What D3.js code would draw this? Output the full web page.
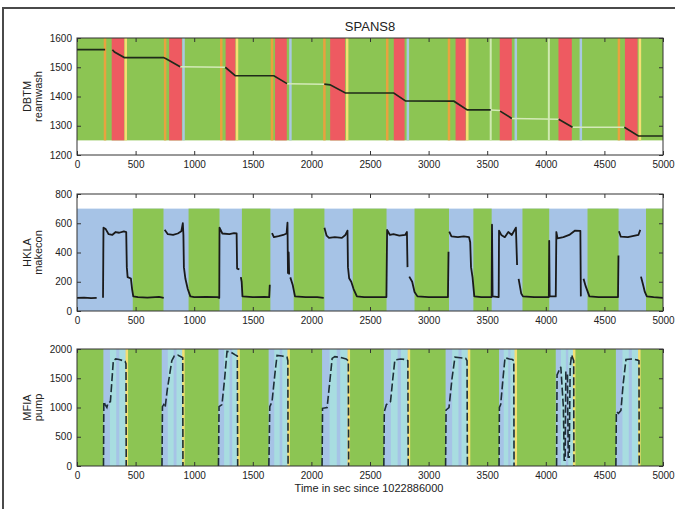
<!DOCTYPE html>
<html>
<head>
<meta charset="utf-8">
<script src="https://cdn.jsdelivr.net/npm/d3@7"></script>
<style>
  html, body { margin: 0; padding: 0; background: #fff; }
  svg { display: block; font-family: "Liberation Sans", Arial, sans-serif; }
</style>
</head>
<body>
<svg id="chart" width="675" height="509"></svg>
<script>
// ---------------- DATA ----------------
const chartTitle = "SPANS8";
const xLabel = "Time in sec since 1022886000";
const xTicks = [0, 500, 1000, 1500, 2000, 2500, 3000, 3500, 4000, 4500, 5000];

// Panel 1: DBTM reamwash
const p1Label = ["DBTM", "reamwash"];
const p1Ticks = [1200, 1300, 1400, 1500, 1600];
const p1BandRange = [1250, 1600];
const p1Red = [[296, 404], [786, 895], [1268, 1352], [1690, 1790], [2160, 2288], [2703, 2795], [3230, 3316], [3607, 3710], [4108, 4222], [4675, 4783]];
const p1Orange = [239, 752, 1231, 1664, 2111, 2647, 3174, 4624];
const p1Yellow = [416, 1365, 2305, 3330, 4803];
const p1LightBlue = [909, 1821, 2823, 3744, 4299];
const p1Pale = [3530, 4026];
const reamwashSolid = [
  [0, 1560], [240, 1560], null,
  [302, 1560], [320, 1552], [404, 1533], [738, 1533], [760, 1529], [880, 1502], null,
  [1265, 1500], [1350, 1471], [1680, 1471], [1792, 1444], null,
  [2110, 1442], [2160, 1440], [2290, 1412], [2703, 1412], [2803, 1385], [3216, 1384], [3330, 1354], [3530, 1354], null,
  [3610, 1350], [3710, 1325], null,
  [4110, 1322], [4228, 1295], null,
  [4670, 1295], [4790, 1265], [5000, 1265]
];
const reamwashFaint = [
  [880, 1502], [1265, 1500], null,
  [1792, 1444], [2110, 1442], null,
  [3530, 1354], [3610, 1352], null,
  [3710, 1325], [4110, 1322], null,
  [4228, 1295], [4670, 1295]
];

// Panel 2: HKLA makecon
const p2Label = ["HKLA", "makecon"];
const p2Ticks = [0, 200, 400, 600, 800];
const p2BandTop = 700;
const p2Green = [[476, 738], [952, 1216], [1407, 1650], [1849, 2111], [2353, 2641], [2880, 3174], [3382, 3538], [3801, 4029], [4356, 4621], [4855, 5000]];
const hkla = [
  [0, 90], [60, 92], [120, 88], [168, 90], null,
  [222, 90], [226, 570], [245, 560], [270, 525], [300, 520], [330, 540], [360, 535], [400, 545], [420, 540], [425, 300], [432, 232], [460, 222], [470, 150], [480, 100], [520, 95], [600, 92], [700, 96], [740, 90], null,
  [748, 555], [775, 525], [820, 520], [860, 530], [890, 545], [903, 600], [908, 520], [912, 300], [925, 220], [945, 150], [967, 100], [1000, 95], [1100, 97], [1200, 95], [1214, 90], [1216, 570], [1240, 530], [1300, 525], [1340, 532], [1362, 530], [1366, 290], [1385, 285], null,
  [1398, 232], [1405, 200], [1412, 100], [1500, 95], [1600, 97], [1640, 95], [1645, 180], null,
  [1664, 533], [1680, 505], [1720, 512], [1760, 520], [1788, 530], [1796, 604], [1800, 260], [1806, 400], [1810, 250], null,
  [1820, 230], [1840, 180], [1860, 100], [1950, 95], [2050, 95], [2105, 90], null,
  [2111, 570], [2130, 515], [2150, 500], [2200, 505], [2260, 500], [2290, 520], [2308, 550], [2312, 300], [2322, 224], [2340, 200], [2360, 150], [2388, 100], [2450, 95], [2550, 95], [2640, 95], [2646, 554], [2670, 520], [2700, 525], [2750, 515], [2800, 520], [2815, 540], [2820, 300], null,
  [2835, 235], [2860, 200], [2880, 130], [2905, 100], [3000, 95], [3100, 95], [3165, 95], [3170, 405], null,
  [3176, 542], [3195, 510], [3250, 505], [3300, 510], [3345, 505], [3355, 470], [3362, 300], [3375, 230], [3390, 100], [3450, 95], [3538, 95], [3541, 590], [3546, 100], [3598, 95], [3601, 550], [3620, 520], [3650, 505], [3680, 540], [3710, 520], [3745, 570], [3755, 314], null,
  [3768, 220], [3790, 120], [3805, 100], [3900, 95], [4000, 95], [4026, 95], [4029, 480], [4033, 100], [4085, 100], [4090, 540], [4100, 497], [4150, 505], [4200, 520], [4250, 550], [4295, 548], [4299, 100], null,
  [4322, 220], [4340, 170], [4372, 100], [4450, 95], [4550, 95], [4616, 95], [4620, 380], null,
  [4624, 545], [4640, 508], [4700, 505], [4760, 515], [4790, 520], [4806, 555], null,
  [4812, 235], [4830, 180], [4845, 130], [4862, 100], [4920, 95], [5000, 90]
];

// Panel 3: MFIA pump
const p3Label = ["MFIA", "pump"];
const p3Ticks = [0, 500, 1000, 1500, 2000];
const pumpCycles = [[225, 425], [723, 908], [1207, 1379], [1635, 1806], [2091, 2319], [2618, 2832], [3145, 3345], [3601, 3744], [4085, 4242], [4598, 4798]];
const pumpCyanParts = [[0.28, 0.55], [0.68, 0.95]];
const pump = [
  [226, 0], [229, 1100], [240, 1050], [255, 1000], [265, 1080], [285, 1100], [310, 1800], [330, 1830], [360, 1820], [395, 1800], [410, 1790], [418, 1750], [420, 0], null,
  [725, 0], [729, 1014], [740, 1050], [752, 1000], [770, 1300], [809, 1800], [830, 1880], [860, 1895], [895, 1860], [902, 1850], [904, 0], null,
  [1207, 0], [1212, 1014], [1237, 1050], [1260, 1500], [1280, 1960], [1310, 1950], [1350, 1900], [1368, 1880], [1371, 0], null,
  [1637, 0], [1645, 1014], [1664, 1100], [1690, 1600], [1707, 1890], [1750, 1880], [1792, 1860], [1799, 1800], [1801, 0], null,
  [2091, 0], [2095, 986], [2134, 1000], [2160, 1500], [2177, 1840], [2200, 1870], [2260, 1850], [2296, 1830], [2315, 1800], [2318, 0], null,
  [2618, 0], [2622, 928], [2640, 1050], [2675, 1100], [2695, 1500], [2712, 1810], [2760, 1830], [2803, 1820], [2823, 1800], [2826, 0], null,
  [3145, 0], [3149, 957], [3174, 1000], [3200, 1500], [3225, 1860], [3270, 1850], [3316, 1840], [3328, 1800], [3331, 0], null,
  [3601, 0], [3604, 1000], [3615, 1050], [3635, 1500], [3652, 1850], [3690, 1830], [3715, 1820], [3727, 1800], [3729, 0], null,
  [4092, 0], [4096, 1555], [4128, 1697], [4150, 1000], [4157, 100], [4165, 100], [4171, 1600], [4185, 1600], [4191, 150], [4200, 150], [4208, 1700], [4220, 1900], [4238, 1800], [4240, 0], null,
  [4598, 0], [4602, 928], [4620, 900], [4641, 950], [4660, 1400], [4684, 1820], [4740, 1830], [4784, 1810], [4795, 1800], [4797, 0]
];

// ---------------- DRAWING ----------------
const svg = d3.select("#chart");
const C = {
  green: "#8cc553", red: "#ee5a61", orange: "#e9a23f", yellow: "#f4df72",
  lightblue: "#a9c8e2", pale: "#cfe9b0", blue: "#a6c3e6", cyan: "#a8dde0", ink: "#1a1a1a"
};
const x = d3.scaleLinear().domain([0, 5000]).range([77, 663]);
const panels = [
  { top: 38, bottom: 155, domain: [1200, 1600], ticks: p1Ticks, label: p1Label },
  { top: 194, bottom: 311, domain: [0, 800], ticks: p2Ticks, label: p2Label },
  { top: 349, bottom: 466, domain: [0, 2000], ticks: p3Ticks, label: p3Label }
];
panels.forEach(p => { p.y = d3.scaleLinear().domain(p.domain).range([p.bottom, p.top]); });

// Figure frame
svg.append("path").attr("d", "M3,509 V8 H675").attr("fill", "none").attr("stroke", "#4a4a4a").attr("stroke-width", 2);

function band(g, p, x0, x1, y0, y1, color) {
  g.append("rect")
    .attr("x", x(x0)).attr("width", Math.max(0, x(x1) - x(x0)))
    .attr("y", p.y(y1)).attr("height", p.y(y0) - p.y(y1))
    .attr("fill", color);
}
function stripe(g, p, xv, y0, y1, color, w) {
  g.append("rect")
    .attr("x", x(xv) - w / 2).attr("width", w)
    .attr("y", p.y(y1)).attr("height", p.y(y0) - p.y(y1))
    .attr("fill", color);
}

// ---- Panel 1
{
  const p = panels[0];
  const g = svg.append("g");
  band(g, p, 0, 5000, p1BandRange[0], p1BandRange[1], C.green);
  p1Red.forEach(d => band(g, p, d[0], d[1], p1BandRange[0], p1BandRange[1], C.red));
  p1Orange.forEach(v => stripe(g, p, v, p1BandRange[0], p1BandRange[1], C.orange, 2.5));
  p1Yellow.forEach(v => stripe(g, p, v, p1BandRange[0], p1BandRange[1], C.yellow, 2.5));
  p1LightBlue.forEach(v => stripe(g, p, v, p1BandRange[0], p1BandRange[1], C.lightblue, 2.5));
  p1Pale.forEach(v => stripe(g, p, v, p1BandRange[0], p1BandRange[1], C.pale, 2));
  const line = d3.line().defined(d => d !== null).x(d => x(d[0])).y(d => p.y(d[1]));
  g.append("path").attr("d", line(reamwashFaint)).attr("fill", "none").attr("stroke", "#d4eab8").attr("stroke-width", 1.5);
  g.append("path").attr("d", line(reamwashSolid)).attr("fill", "none").attr("stroke", "#1f2a1a").attr("stroke-width", 1.7);
}

// ---- Panel 2
{
  const p = panels[1];
  const g = svg.append("g");
  band(g, p, 0, 5000, 0, p2BandTop, C.blue);
  p2Green.forEach(d => band(g, p, d[0], d[1], 0, p2BandTop, C.green));
  const line = d3.line().defined(d => d !== null).x(d => x(d[0])).y(d => p.y(d[1]));
  g.append("path").attr("d", line(hkla)).attr("fill", "none").attr("stroke", C.ink).attr("stroke-width", 1.8).attr("stroke-linejoin", "round");
}

// ---- Panel 3
{
  const p = panels[2];
  const g = svg.append("g");
  band(g, p, 0, 5000, 0, 2000, C.green);
  pumpCycles.forEach(c => {
    const len = c[1] - c[0];
    band(g, p, c[0], c[1], 0, 2000, C.blue);
    pumpCyanParts.forEach(f => band(g, p, c[0] + f[0] * len, c[0] + f[1] * len, 0, 2000, C.cyan));
    stripe(g, p, c[1], 0, 2000, C.yellow, 2.5);
  });
  const line = d3.line().defined(d => d !== null).x(d => x(d[0])).y(d => p.y(d[1]));
  g.append("path").attr("d", line(pump)).attr("fill", "none").attr("stroke", "#1e2e36").attr("stroke-width", 1.6)
    .attr("stroke-dasharray", "8,3");
}

// ---- Axes for all panels
panels.forEach((p, i) => {
  const g = svg.append("g");
  g.append("rect").attr("x", x(0)).attr("y", p.top).attr("width", x(5000) - x(0)).attr("height", p.bottom - p.top)
    .attr("fill", "none").attr("stroke", "#333").attr("stroke-width", 1);
  const xb = d3.axisBottom(x).tickValues(xTicks).tickFormat(d3.format("d")).tickSizeInner(-4).tickSizeOuter(0).tickPadding(6);
  const gx = g.append("g").attr("transform", `translate(0,${p.bottom})`).call(xb);
  const xt = d3.axisTop(x).tickValues(xTicks).tickFormat("").tickSizeInner(-4).tickSizeOuter(0);
  const gxt = g.append("g").attr("transform", `translate(0,${p.top})`).call(xt);
  const yl = d3.axisLeft(p.y).tickValues(p.ticks).tickFormat(d3.format("d")).tickSizeInner(-4).tickSizeOuter(0).tickPadding(5);
  const gy = g.append("g").attr("transform", `translate(${x(0)},0)`).call(yl);
  const yr = d3.axisRight(p.y).tickValues(p.ticks).tickFormat("").tickSizeInner(-4).tickSizeOuter(0);
  const gyr = g.append("g").attr("transform", `translate(${x(5000)},0)`).call(yr);
  [gx, gxt, gy, gyr].forEach(a => {
    a.select(".domain").remove();
    a.selectAll("line").attr("stroke", "#333");
    a.selectAll("text").attr("fill", "#222").style("font-size", "10px").style("font-family", "'Liberation Sans', Arial, sans-serif");
  });
  const cy = (p.top + p.bottom) / 2;
  g.append("text").attr("transform", `translate(31,${cy}) rotate(-90)`).attr("text-anchor", "middle")
    .style("font-size", "11px").attr("fill", "#222").text(p.label[0]);
  g.append("text").attr("transform", `translate(42,${cy}) rotate(-90)`).attr("text-anchor", "middle")
    .style("font-size", "11px").attr("fill", "#222").text(p.label[1]);
});

// Title and x label
svg.append("text").attr("x", 370).attr("y", 31).attr("text-anchor", "middle").style("font-size", "13px").attr("fill", "#222").text(chartTitle);
svg.append("text").attr("x", 369).attr("y", 492).attr("text-anchor", "middle").style("font-size", "11px").attr("fill", "#222").text(xLabel);
</script>
</body>
</html>
